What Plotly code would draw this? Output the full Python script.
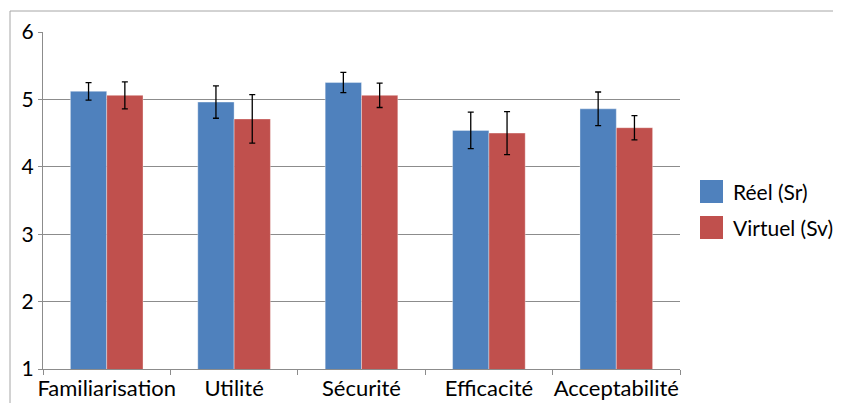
import plotly.graph_objects as go

# Données (moyennes et écarts)
categories = ['Familiarisation', 'Utilité', 'Sécurité', 'Efficacité', 'Acceptabilité']
reel_values = [5.12, 4.96, 5.25, 4.54, 4.86]
reel_errors = [0.13, 0.24, 0.15, 0.27, 0.25]
virtuel_values = [5.06, 4.71, 5.06, 4.50, 4.58]
virtuel_errors = [0.20, 0.36, 0.18, 0.32, 0.18]

series_names = ['Réel (Sr)', 'Virtuel (Sv)']
series_colors = ['#4F81BD', '#C0504D']

FONT = 'Lato, Open Sans, sans-serif'

# la page html ajoute une marge de 8 px autour de la figure
OFF = 8
W, H = 841 - OFF, 403 - OFF
# zone de tracé en pixels (coordonnées de l'image de référence)
X0, X1, Y0, Y1 = 43, 680, 32, 369
L, T = X0 - OFF, Y0 - OFF
R, B = W - (X1 - OFF), H - (Y1 - OFF)
plot_w = X1 - X0
plot_h = Y1 - Y0


def px_x(p):
    return (p - X0) / plot_w


def px_y(p):
    return 1 - (p - Y0) / plot_h


fig = go.Figure()

for name, color, vals, errs in [
    (series_names[0], series_colors[0], reel_values, reel_errors),
    (series_names[1], series_colors[1], virtuel_values, virtuel_errors),
]:
    fig.add_trace(go.Bar(
        x=categories,
        y=vals,
        name=name,
        marker=dict(color=color, line=dict(color='rgba(255,255,255,0.35)', width=1)),
        error_y=dict(type='data', array=errs, visible=True,
                     color='black', thickness=1.3, width=3),
        showlegend=False,
    ))

# Cadre extérieur du graphique (coupé à droite et en bas)
fig.add_shape(
    type='rect', xref='paper', yref='paper',
    x0=px_x(10), x1=1.5,
    y0=-0.5, y1=px_y(11),
    line=dict(color='#a6a6a6', width=1),
    fillcolor='rgba(0,0,0,0)', layer='below',
)

# Légende dessinée à la main (grands carrés comme dans Excel)
for i, (name, color) in enumerate(zip(series_names, series_colors)):
    top = 180 + i * 36
    fig.add_shape(
        type='rect', xref='paper', yref='paper',
        x0=px_x(700), x1=px_x(723), y0=px_y(top + 23), y1=px_y(top),
        fillcolor=color, line=dict(width=0),
    )
    fig.add_annotation(
        xref='paper', yref='paper',
        x=px_x(731), y=px_y(top + 11.5),
        xanchor='left', yanchor='middle',
        text=name, showarrow=False,
        font=dict(family=FONT, size=21, color='black'),
    )

fig.update_layout(
    width=W, height=H,
    margin=dict(l=L, r=R, t=T, b=B, autoexpand=False),
    barmode='group',
    bargap=0.43,
    bargroupgap=0,
    plot_bgcolor='white',
    paper_bgcolor='white',
    font=dict(family=FONT, size=21, color='black'),
    showlegend=False,
)

fig.update_yaxes(
    range=[1, 6],
    dtick=1,
    automargin=False,
    showgrid=True,
    gridcolor='#8c8c8c',
    gridwidth=1,
    showline=True,
    linecolor='#8c8c8c',
    ticks='outside',
    ticklen=4,
    tickcolor='#8c8c8c',
    tickfont=dict(family=FONT, size=21, color='black'),
    zeroline=False,
)

fig.update_xaxes(
    automargin=False,
    tickangle=0,
    showline=True,
    linecolor='#8c8c8c',
    ticks='outside',
    ticklen=5,
    tickcolor='#8c8c8c',
    tickson='boundaries',
    tickfont=dict(family=FONT, size=22, color='black'),
)

fig.write_html('out.html')
